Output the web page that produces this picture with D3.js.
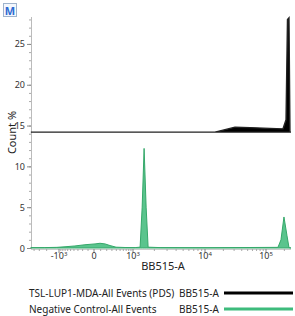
<!DOCTYPE html>
<html><head><meta charset="utf-8">
<script src="https://cdn.jsdelivr.net/npm/d3@7"></script>
<style>body{margin:0;background:#fff}svg{display:block}text{font-family:"Noto Sans",sans-serif}</style>
</head><body><svg id="c" width="295" height="316"></svg>
<script>
// ---- data ----
const channelName = "BB515-A";
const seriesNames = ["TSL-LUP1-MDA-All Events (PDS)", "Negative Control-All Events"];
const xTickValues = [-1000, 0, 1000, 10000, 100000];
const xTickLabels = [["-10","3"],["0",""],["10","3"],["10","4"],["10","5"]];
const yTickValues = [0, 5, 10, 15, 20, 25];
const yLabel = "Count %";
const blackOffset = 14.2;
// Negative control (green), values in BB515-A units, count %
const greenX = [-4780, -2210, -1130, -705, -375, -155, 15, 90, 171, 262, 394, 659, 1075, 1262, 1350, 1437, 1535, 1636, 2400, 10000, 54600, 157000, 176000, 197000, 221000, 238000, 257000];
const greenY = [0.05, 0.05, 0.08, 0.15, 0.25, 0.4, 0.5, 0.58, 0.5, 0.3, 0.1, 0.06, 0.05, 0.1, 5, 12.2, 5, 0.1, 0.05, 0.04, 0.06, 0.08, 1.0, 3.8, 1.5, 0.05, 0];
// Sample (black), count % above its offset baseline
const blackX = [-4780, 1000, 14600, 21300, 31000, 54600, 116000, 190000, 213000, 225000, 238000, 247000, 257000];
const blackY = [0, 0, 0, 0.3, 0.6, 0.55, 0.45, 0.4, 1.5, 13.8, 14.0, 0, 0];

(function(){
// ---- scales ----
const svg = d3.select("#c");
const pLeft = 31, pRight = 291, pTop = 17, pBottom = 248;
const cof = 300;
const T = v => Math.asinh(v / cof);
const xs = d3.scaleLinear().domain(xTickValues.map(T)).range([59, 94, 133, 205, 266]);
const x = v => xs(T(v));
const y = d3.scaleLinear().domain([0, 28.3]).range([pBottom, pTop]);

// icon
svg.append("rect").attr("x",3.5).attr("y",3.5).attr("width",13).attr("height",13)
  .attr("fill","#f3f7fd").attr("stroke","#9fb3cc");
svg.append("text").attr("x",10).attr("y",14.5).attr("text-anchor","middle")
  .attr("font-size",11).attr("font-weight","bold").attr("fill","#2d6ad2").text("M");

// axes lines
svg.append("line").attr("x1",pLeft+0.5).attr("x2",pLeft+0.5).attr("y1",pTop).attr("y2",pBottom+1)
  .attr("stroke","#bbb");
svg.append("line").attr("x1",pLeft).attr("x2",pRight).attr("y1",pBottom+1.5).attr("y2",pBottom+1.5)
  .attr("stroke","#ccc");

// y ticks
const yMinor = d3.range(0, 29, 1);
svg.selectAll(".ym").data(yMinor).join("line")
  .attr("x1",pLeft-2).attr("x2",pLeft).attr("y1",d=>y(d)+0.5).attr("y2",d=>y(d)+0.5).attr("stroke","#aaa");
svg.selectAll(".yM").data(yTickValues).join("line")
  .attr("x1",pLeft-4).attr("x2",pLeft).attr("y1",d=>y(d)+0.5).attr("y2",d=>y(d)+0.5).attr("stroke","#888");
svg.selectAll(".yl").data(yTickValues).join("text")
  .attr("x",pLeft-6).attr("y",d=>y(d)+3.5).attr("text-anchor","end")
  .attr("font-size",9).attr("fill","#333").text(d=>d);
svg.append("text").attr("transform",`translate(16,${(pTop+pBottom)/2}) rotate(-90)`)
  .attr("text-anchor","middle").attr("font-size",11).attr("fill","#222").text(yLabel);

// x ticks
const xMinor = [];
for (let k=1;k<=9;k++){ xMinor.push(k*100, -k*100); }
for (let k=2;k<=9;k++){ xMinor.push(k*1000, -k*1000, k*10000, k*100000); }
svg.selectAll(".xm").data(xMinor.filter(v=>x(v)>=pLeft&&x(v)<=pRight)).join("line")
  .attr("x1",d=>x(d)).attr("x2",d=>x(d)).attr("y1",pBottom+1).attr("y2",pBottom+3).attr("stroke","#aaa");
svg.selectAll(".xM").data(xTickValues).join("line")
  .attr("x1",d=>x(d)).attr("x2",d=>x(d)).attr("y1",pBottom+1).attr("y2",pBottom+5).attr("stroke","#888");
const xl = svg.selectAll(".xl").data(xTickValues).join("text")
  .attr("x",d=>x(d)).attr("y",pBottom+11).attr("text-anchor","middle")
  .attr("font-size",9).attr("fill","#333");
xl.append("tspan").text((d,i)=>xTickLabels[i][0]);
xl.append("tspan").attr("dy",-3).attr("font-size",6).text((d,i)=>xTickLabels[i][1]);
svg.append("text").attr("x",163).attr("y",270).attr("text-anchor","middle")
  .attr("font-size",11).attr("fill","#222").text(channelName);

// series
const gData = greenX.map((v,i)=>({v, c: greenY[i]}));
const bData = blackX.map((v,i)=>({v, c: blackY[i]}));
svg.append("path").datum(gData)
  .attr("d", d3.area().x(d=>x(d.v)).y0(y(0)).y1(d=>y(d.c)))
  .attr("fill","#5ac48d").attr("stroke","#35a86a").attr("stroke-width",1);
svg.append("path").datum(bData)
  .attr("d", d3.area().x(d=>x(d.v)).y0(y(blackOffset)).y1(d=>y(blackOffset+d.c)))
  .attr("fill","#000").attr("stroke","#222").attr("stroke-width",1.4);

// legend
const legColors = ["#000","#3dbb7c"];
seriesNames.forEach((n,i)=>{
  const cy = 293 + i*16;
  svg.append("text").attr("x",29).attr("y",cy+3.5).attr("font-size",10).attr("fill","#222").text(n);
  svg.append("text").attr("x",179).attr("y",cy+3.5).attr("font-size",10).attr("fill","#222").text(channelName);
  svg.append("line").attr("x1",224).attr("x2",293).attr("y1",cy).attr("y2",cy)
    .attr("stroke",legColors[i]).attr("stroke-width",3);
});
})();
</script></body></html>
